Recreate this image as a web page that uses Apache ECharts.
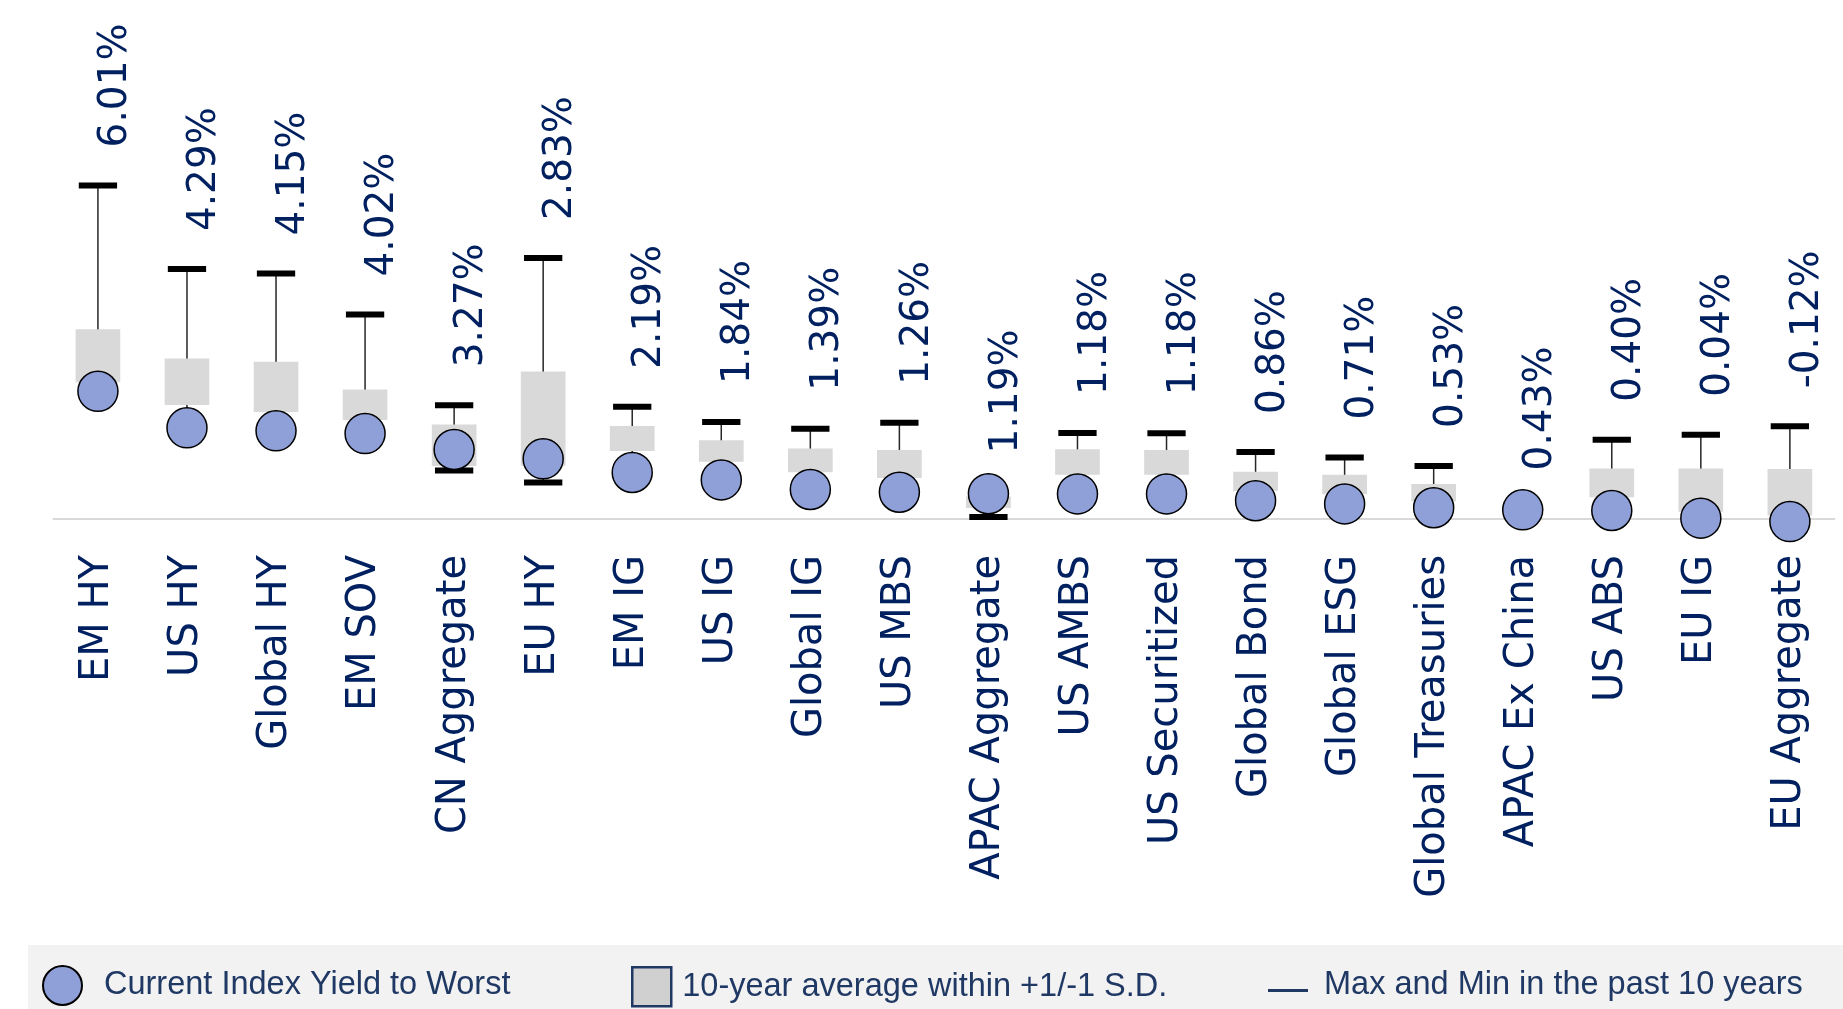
<!DOCTYPE html>
<html>
<head>
<meta charset="utf-8">
<script src="https://cdn.jsdelivr.net/npm/echarts@6/dist/echarts.min.js"></script>
<style>
html,body{margin:0;padding:0;background:#fff;}
#chart{width:1843px;height:1009px;}
</style>
</head>
<body>
<div id="chart"></div>
<script>
const categories = ['EM HY','US HY','Global HY','EM SOV','CN Aggregate','EU HY','EM IG','US IG','Global IG','US MBS','APAC Aggregate','US AMBS','US Securitized','Global Bond','Global ESG','Global Treasuries','APAC Ex China','US ABS','EU IG','EU Aggregate'];
const currentYield = [6.01,4.29,4.15,4.02,3.27,2.83,2.19,1.84,1.39,1.26,1.19,1.18,1.18,0.86,0.71,0.53,0.43,0.40,0.04,-0.12];
const max10y = [15.70,11.76,11.55,9.62,5.35,12.28,5.28,4.57,4.25,4.53,1.30,4.05,4.04,3.15,2.89,2.50,0.50,3.73,3.96,4.36];
const min10y = [5.95,4.25,4.10,3.98,2.28,1.72,2.15,1.80,1.35,1.22,0.09,1.14,1.14,0.82,0.67,0.50,0.40,0.36,0.00,-0.16];
const avgPlusSD = [8.93,7.55,7.40,6.10,4.45,6.94,4.38,3.71,3.32,3.25,1.06,3.28,3.25,2.22,2.08,1.65,null,2.38,2.38,2.35];
const avgMinusSD = [6.43,5.36,5.03,4.66,2.50,2.51,3.20,2.69,2.20,1.93,0.52,2.08,2.08,1.32,1.16,0.83,null,1.02,0.34,0.17];

const NAME_CUR = 'Current Index Yield to Worst';
const NAME_BOX = '10-year average within +1/-1 S.D.';
const NAME_RNG = 'Max and Min in the past 10 years';

const navy = '#002060';
const boxData = categories.map((c, i) => [i, avgPlusSD[i], avgMinusSD[i]]);
const rangeData = categories.map((c, i) => [i, max10y[i], min10y[i], currentYield[i]]);

function renderBox(params, api) {
  const hi = api.value(1), lo = api.value(2);
  if (isNaN(hi) || isNaN(lo)) return null;
  const i = api.value(0);
  const pHi = api.coord([i, hi]);
  const pLo = api.coord([i, lo]);
  const w = api.size([1, 0])[0] * 0.502;
  return {
    type: 'rect',
    shape: { x: pHi[0] - w / 2, y: pHi[1], width: w, height: pLo[1] - pHi[1] },
    style: { fill: '#d9d9d9' }
  };
}

function renderRange(params, api) {
  const i = api.value(0);
  const mx = api.value(1), mn = api.value(2), cur = api.value(3);
  const pMax = api.coord([i, mx]);
  const pMin = api.coord([i, mn]);
  const capW = api.size([1, 0])[0] * 0.43;
  return {
    type: 'group',
    children: [
      { type: 'line', shape: { x1: pMax[0], y1: pMax[1], x2: pMin[0], y2: pMin[1] },
        style: { stroke: '#262626', lineWidth: 1.5 } },
      { type: 'rect', shape: { x: pMax[0] - capW / 2, y: pMax[1] - 3, width: capW, height: 6 },
        style: { fill: '#000' } },
      { type: 'rect', shape: { x: pMin[0] - capW / 2, y: pMin[1] - 3, width: capW, height: 6 },
        style: { fill: '#000' } },
      { type: 'text', x: pMax[0] + 18, y: pMax[1] - 38, rotation: Math.PI / 2,
        style: { text: cur.toFixed(2) + '%', x: 0, y: 0, align: 'left', verticalAlign: 'middle',
                 fill: navy, fontSize: 39, fontFamily: 'DejaVu Sans' } }
    ]
  };
}

const legendText = { fontFamily: 'Liberation Sans', fontSize: 32.5, color: '#1f3864' };

const option = {
  backgroundColor: '#ffffff',
  animation: false,
  graphic: [
    { type: 'rect', left: 28, top: 945, z: -10, shape: { width: 1815, height: 64 }, style: { fill: '#f2f2f2' } }
  ],
  grid: { left: 53.4, right: 8.6, top: 9, bottom: 490 },
  xAxis: {
    type: 'category',
    data: categories,
    axisLine: { lineStyle: { color: '#d9d9d9', width: 2 } },
    axisTick: { show: false },
    axisLabel: { rotate: 90, margin: 36, interval: 0, fontSize: 40, color: navy, fontFamily: 'DejaVu Sans' },
    splitLine: { show: false }
  },
  yAxis: { type: 'value', min: 0, max: 24, show: false, splitLine: { show: false } },
  legend: [
    { selectedMode: false, left: 42, top: 965, padding: 0, itemWidth: 39, itemHeight: 41,
      textStyle: Object.assign({ padding: [0, 0, 0, 17] }, legendText),
      data: [{ name: NAME_CUR, icon: 'circle', itemStyle: { color: '#8fa0d8', borderColor: '#000', borderWidth: 2 } }] },
    { selectedMode: false, left: 631, top: 966, padding: 0, itemWidth: 39, itemHeight: 39,
      textStyle: Object.assign({ padding: [0, 0, 0, 6] }, legendText),
      data: [{ name: NAME_BOX, icon: 'rect', itemStyle: { color: '#d0d0d0', borderColor: '#1f3864', borderWidth: 2.5 } }] },
    { selectedMode: false, left: 1268, top: 965, padding: 0, itemWidth: 40, itemHeight: 41,
      textStyle: Object.assign({ padding: [0, 0, 0, 11] }, legendText),
      data: [{ name: NAME_RNG, icon: 'path://M0,0 L0.01,0 M0,24 L40,24 L40,27 L0,27 Z M40,41 L39.99,41',
               itemStyle: { color: '#1f3864', borderWidth: 0 } }] }
  ],
  series: [
    { name: NAME_RNG, type: 'custom', z: 2, renderItem: renderRange, data: rangeData,
      encode: { x: 0, y: [1, 2] }, itemStyle: { color: '#1f3864' } },
    { name: NAME_BOX, type: 'custom', z: 3, renderItem: renderBox, data: boxData,
      encode: { x: 0, y: [1, 2] }, itemStyle: { color: '#d0d0d0' } },
    { name: NAME_CUR, type: 'scatter', z: 4, clip: false, data: currentYield,
      symbol: 'circle', symbolSize: 40,
      itemStyle: { color: '#8fa0d8', borderColor: '#000', borderWidth: 1.5, opacity: 1 } }
  ]
};

const chart = echarts.init(document.getElementById('chart'), null, { renderer: 'canvas' });
chart.setOption(option);
</script>
</body>
</html>
